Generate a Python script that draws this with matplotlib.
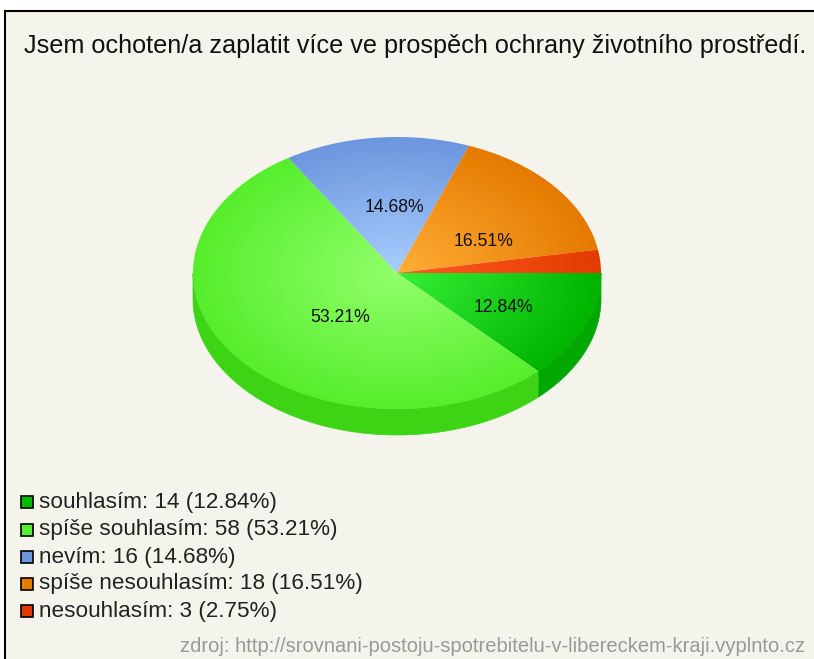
"""Pie chart: willingness to pay more for environmental protection."""

import numpy as np
import matplotlib
matplotlib.use('Agg')
import matplotlib.pyplot as plt
from matplotlib.colors import LinearSegmentedColormap
from matplotlib.patches import Polygon, Rectangle

TITLE = "Jsem ochoten/a zaplatit více ve prospěch ochrany životního prostředí."
SOURCE = "zdroj: http://srovnani-postoju-spotrebitelu-v-libereckem-kraji.vyplnto.cz"

categories = ["souhlasím", "spíše souhlasím", "nevím", "spíše nesouhlasím", "nesouhlasím"]
counts = [14, 58, 16, 18, 3]
percents = ["12.84%", "53.21%", "14.68%", "16.51%", "2.75%"]

inner_colors = ["#38F038", "#92FF6C", "#A8CEFF", "#FFAE38", "#FF5A22"]
outer_colors = ["#00B400", "#56EE2C", "#6C96DE", "#E57A00", "#E23C00"]
side_colors = ["#00A800", "#3CD414", "#5A80C0", "#C86A00", "#C83400"]
legend_colors = ["#00BB00", "#55EE33", "#6C96DE", "#E57A00", "#E03A00"]

# pixel layout of the picture
CX, CY = 397, 273
RX, RY = 204, 136
DEPTH = 26
label_pos = [(503, 307), (340, 317), (394, 207), (484, 242), None]
legend_y = [502, 529.5, 556.5, 583.5, 610.5]
BG = "#F4F4EC"
FONT = "Liberation Sans"


def arc(a0, a1, dy=0):
    t = np.radians(np.linspace(a0, a1, 200))
    return np.column_stack([CX + RX * np.cos(t), CY + dy + RY * np.sin(t)])


fig = plt.figure(figsize=(8.14, 6.59), dpi=100, facecolor="white")
ax = fig.add_axes([0, 0, 1, 1])
ax.set_xlim(0, 814)
ax.set_ylim(659, 0)
ax.axis("off")

ax.add_patch(Rectangle((5, 11), 830, 670, facecolor=BG, edgecolor="black", linewidth=1.5, zorder=0))

ax.text(24, 46, TITLE, fontsize=18.15, family=FONT, color="#111111", ha="left", va="center")

# angles run clockwise on screen from due east
edges = np.cumsum([0] + counts) / sum(counts) * 360

# side wall, only the front half shows
for i in range(len(counts)):
    a0, a1 = edges[i], min(edges[i + 1], 180)
    if a0 >= 180:
        continue
    pts = np.vstack([arc(a0, a1), arc(a0, a1, DEPTH)[::-1]])
    ax.add_patch(Polygon(pts, closed=True, facecolor=side_colors[i], edgecolor=side_colors[i],
                         linewidth=0.5, zorder=1))

# top surface with a radial gradient per slice
yy, xx = np.mgrid[CY - RY - 2:CY + RY + 2:600j, CX - RX - 2:CX + RX + 2:800j]
radius = np.clip(np.hypot((xx - CX) / RX, (yy - CY) / RY), 0, 1)
extent = [CX - RX - 2, CX + RX + 2, CY + RY + 2, CY - RY - 2]
for i in range(len(counts)):
    pts = np.vstack([[CX, CY], arc(edges[i], edges[i + 1])])
    clip = Polygon(pts, closed=True, transform=ax.transData, facecolor="none", edgecolor="none")
    ax.add_patch(clip)
    cmap = LinearSegmentedColormap.from_list(f"slice{i}", [inner_colors[i], outer_colors[i]])
    im = ax.imshow(radius, cmap=cmap, vmin=0, vmax=1, extent=extent, aspect="auto",
                   origin="upper", interpolation="bilinear", zorder=2)
    im.set_clip_path(clip)

ax.set_xlim(0, 814)
ax.set_ylim(659, 0)

for pos, pct in zip(label_pos, percents):
    if pos is not None:
        ax.text(pos[0], pos[1], pct, fontsize=12.7, family=FONT, color="#111111",
                ha="center", va="center", zorder=3)

# legend
for y, name, n, pct, col in zip(legend_y, categories, counts, percents, legend_colors):
    ax.add_patch(Rectangle((21, y - 6), 12, 12, facecolor=col, edgecolor="black", linewidth=1.2, zorder=3))
    ax.text(39, y + 6, f"{name}: {n} ({pct})", fontsize=16.2, family=FONT, color="#222222",
            ha="left", va="baseline", zorder=3)

ax.text(805, 647, SOURCE, fontsize=14.5, family=FONT, color="#999999", ha="right", va="center")

fig.savefig("out.png", dpi=100, facecolor="white")
